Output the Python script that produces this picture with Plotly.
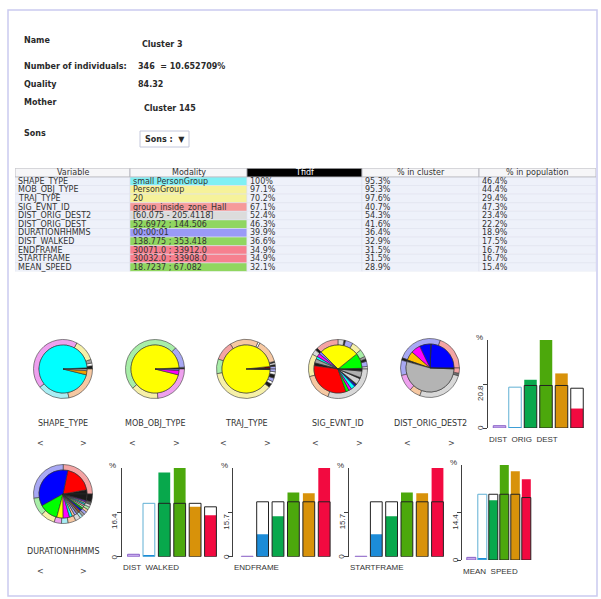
import plotly.graph_objects as go

W, H = 601, 599

# ---------------- data ----------------
info_labels = ["Name", "Number of individuals:", "Quality", "Mother", "Sons"]
info_values = ["Cluster 3", "346  = 10.652709%", "84.32", "Cluster 145", "Sons :  ▼"]

table_header = ["Variable", "Modality", "Tfidf", "% in cluster", "% in population"]
variables = ["SHAPE_TYPE", "MOB_OBJ_TYPE", "TRAJ_TYPE", "SIG_EVNT_ID", "DIST_ORIG_DEST2",
             "DIST_ORIG_DEST", "DURATIONHHMMS", "DIST_WALKED", "ENDFRAME", "STARTFRAME", "MEAN_SPEED"]
modalities = ["small PersonGroup", "PersonGroup", "20", "group_inside_zone_Hall", "[60.075 - 205.4118]",
              "52.6972 ; 144.506", "00:00:01", "138.775 ; 353.418", "30071.0 ; 33912.0",
              "30032.0 ; 33908.0", "18.7237 ; 67.082"]
tfidf = ["100%", "97.1%", "70.2%", "67.1%", "52.4%", "46.3%", "39.9%", "36.6%", "34.9%", "34.9%", "32.1%"]
pct_cluster = ["95.3%", "95.3%", "97.6%", "40.7%", "54.3%", "41.6%", "36.4%", "32.9%", "31.5%", "31.5%", "28.9%"]
pct_population = ["46.4%", "44.4%", "29.4%", "47.3%", "23.4%", "22.2%", "18.9%", "17.5%", "16.7%", "16.7%", "15.4%"]

# pie charts: inner = cluster distribution, ring = population distribution
# (slices listed counter-clockwise, starting at 3 o'clock)
pie_names = ["SHAPE_TYPE", "MOB_OBJ_TYPE", "TRAJ_TYPE", "SIG_EVNT_ID", "DIST_ORIG_DEST2", "DURATIONHHMMS"]

shape_inner = [0.8, 95.3, 2.8, 1.1]
mob_inner = [0.8, 95.3, 3.0, 0.9]
traj_inner = [0.5, 1.2, 97.6, 0.4]
sig_inner = [0.5, 10.3, 26.7, 1.7, 2.2, 1.7, 2.8, 1.9, 32.5, 2.2, 1.9, 2.8, 1.1, 0.8, 4.2, 0.8, 4.4, 1.4]
dist2_inner = [24.2, 0.4, 7.5, 6.4, 6.1, 1.1, 53.7, 0.6]
dur_inner = [2.8, 18.6, 35.6, 12.5, 4.2, 4.2, 2.0, 1.6, 1.6, 1.6, 1.4, 1.2, 1.2, 1.2, 1.1, 1.1, 1.0, 1.0, 4.2]

shape_ring = [1.8, 1.5, 2.0, 11.9, 43.3, 17.5, 21.7]
mob_ring = [1.0, 11.7, 48.6, 15.3, 23.4]
traj_ring = [1.5, 1.0, 1.0, 0.7, 13.0, 1.1, 15.6, 10.6, 8.0, 36.9, 2.0, 1.5, 2.0, 2.0, 1.5, 1.5]
sig_ring = [1.4, 2.8, 1.4, 1.4, 4.2, 5.6, 4.2, 0.8, 3.3, 12.5, 1.4, 2.8, 12.5, 15.3, 30.6]
dist2_ring = [19.4, 25.0, 1.4, 8.3, 9.2, 6.1, 26.4, 1.4, 2.8]
dur_ring = [24.4, 26.9, 9.7, 7.8, 3.9, 3.6, 4.2, 2.8, 1.5, 1.5, 1.5, 1.5, 1.5, 1.5, 1.5, 4.2]

# bar charts (% in cluster = filled bar, % in population = outlined box)
bar_titles = ["DIST  ORIG  DEST", "DIST  WALKED", "ENDFRAME", "STARTFRAME", "MEAN  SPEED"]
dod_cluster = [0.9, 0.3, 22.8, 41.6, 25.8, 9.2]
dod_population = [1.1, 19.3, 20.1, 20.1, 20.1, 18.8]
walk_cluster = [0.9, 0.6, 31.2, 32.9, 18.5, 15.4]
walk_population = [0.9, 19.8, 19.8, 19.8, 19.8, 18.5]
end_cluster = [0.0, 8.0, 14.4, 22.8, 22.5, 31.5]
end_population = [0.15, 19.5, 19.5, 19.5, 19.5, 19.5]
start_cluster = [0.0, 8.0, 14.4, 22.8, 22.5, 31.5]
start_population = [0.15, 19.5, 19.5, 19.5, 19.5, 19.5]
speed_cluster = [0.8, 0.5, 18.2, 28.9, 27.0, 24.6]
speed_population = [0.8, 20.0, 20.0, 20.0, 20.0, 19.0]
axis_max = [41.6, 32.9, 31.5, 31.5, 28.9]
axis_mid_labels = ["20.8", "16.4", "15.7", "15.7", "14.4"]

# ---------------- styles ----------------
LGRAY, LPURP, LGREEN, LYEL = "#d8d8d8", "#a8a8f4", "#a8eea8", "#f6f0a8"
SALMON, PEACH, PINK, LCYAN = "#f4a4a4", "#f6c8a2", "#eea0ee", "#a8eef4"
BLK, WHT, GRY = "#1a1a1a", "#ffffff", "#a0a0a0"

shape_inner_c = [BLK, "#00ffff", "#f0a000", "#c0c0c0"]
mob_inner_c = [BLK, "#ffff00", "#ff00ff", "#8080ff"]
traj_inner_c = [BLK, "#800000", "#ffff00", BLK]
sig_inner_c = [BLK, "#00ff00", "#ffff00", "#8080ff", "#ff00ff", "#00ffff", "#a0a0a0", BLK, "#ff0000",
               "#00ff00", "#ff00ff", "#00ffff", "#0000ff", BLK, "#d0d0d0", BLK, "#b0b0b0", BLK]
dist2_inner_c = ["#0000ff", BLK, "#0000ff", "#ff00ff", "#ffc000", BLK, "#b4b4b4", BLK]
dur_inner_c = [BLK, "#ff0000", "#0000ff", "#00ff00", "#ffff00", "#ff00ff", "#00ffff", "#ffc8a0",
               "#a0a0ff", "#808080", "#a05020", "#0000ff", "#00c000", "#a0ffa0", "#ffa0c0",
               "#00e0e0", "#c0c0c0", "#8000ff", BLK]
shape_ring_c = [BLK, WHT, GRY, LYEL, PINK, LCYAN, PEACH]
mob_ring_c = [BLK, LPURP, LGREEN, LYEL, PINK]
traj_ring_c = [LPURP, BLK, WHT, BLK, PEACH, WHT, PEACH, SALMON, LGREEN, LYEL, BLK, WHT, LPURP, BLK, WHT, LPURP]
sig_ring_c = [LGRAY, LPURP, BLK, GRY, LGREEN, LYEL, LPURP, BLK, LGRAY, SALMON, BLK, LGRAY, LYEL, PEACH, LGRAY]
dist2_ring_c = [SALMON, LPURP, BLK, LPURP, PINK, PEACH, LGRAY, "#707070", SALMON]
dur_ring_c = [SALMON, LPURP, LGREEN, LYEL, PINK, LCYAN, PEACH, LGRAY, LCYAN, GRY, LPURP, PEACH,
              LGREEN, LGRAY, "#606060", BLK]

bar_fill = ["#c4a8ec", "#1c8cd8", "#08a84c", "#4ca80c", "#d8920a", "#f20a40"]
OUT = "#222222"

modality_colors = ["#80f0f4", "#f6f29a", "#f6f29a", "#f69a9a", "#dcdcdc", "#90d660",
                   "#9a9af6", "#90d660", "#f6808f", "#f6808f", "#90d660"]

F_UI = "DejaVu Sans"
F_R = "Liberation Sans"


def X(p):
    return p / W


def Y(p):
    return 1 - p / H


fig = go.Figure()
ann = []
shapes = []


def text(x, y, s, size=8, family=F_UI, color="#2a2a2a", xanchor="left", yanchor="middle",
         angle=0, xref="paper", yref="paper", conv=True):
    ann.append(dict(x=X(x) if conv and xref == "paper" else x,
                    y=Y(y) if conv and yref == "paper" else y,
                    xref=xref, yref=yref, text=s, showarrow=False, textangle=angle,
                    xanchor=xanchor, yanchor=yanchor, borderpad=0,
                    font=dict(family=family, size=size, color=color)))


# ---------------- frame ----------------
shapes.append(dict(type="rect", xref="paper", yref="paper", x0=X(8), x1=X(597), y0=Y(596), y1=Y(10),
                   line=dict(color="#cacaf0", width=1.5), layer="below"))

# ---------------- info block ----------------
info_label_y = [41, 66, 85, 103, 133]
info_value_xy = [(141, 44), (137, 66), (137, 84.5), (143, 109), (144, 139.5)]
for lab, yy in zip(info_labels, info_label_y):
    text(23, yy, "<b>" + lab + "</b>", size=8)
shapes.append(dict(type="rect", xref="paper", yref="paper", x0=X(140), x1=X(189), y0=Y(147), y1=Y(131),
                   line=dict(color="#c4c8dc", width=1), fillcolor="#ffffff"))
for val, (xx, yy) in zip(info_values, info_value_xy):
    text(xx, yy, "<b>" + val + "</b>", size=8)

# ---------------- table (own axis: x in px columns, y in row index) ----------------
col_edges = [15, 130, 247, 362, 479, 596]
n_rows = len(variables) + 1
row_top, row_h = 168.3, 8.6
fig.update_layout(
    xaxis6=dict(domain=[X(col_edges[0]), X(col_edges[-1])], range=[col_edges[0], col_edges[-1]],
                visible=False, fixedrange=True, anchor="y6"),
    yaxis6=dict(domain=[Y(row_top + n_rows * row_h), Y(row_top)], range=[n_rows - 0.5, -0.5],
                visible=False, fixedrange=True, anchor="x6"),
)
fig.add_trace(go.Scatter(x=[col_edges[0]], y=[0], xaxis="x6", yaxis="y6", mode="markers",
                         marker=dict(opacity=0), hoverinfo="skip", showlegend=False))
columns = [variables, modalities, tfidf, pct_cluster, pct_population]
for c in range(5):
    x0, x1 = col_edges[c], col_edges[c + 1]
    hdr_black = table_header[c] == "Tfidf"
    shapes.append(dict(type="rect", xref="x6", yref="y6", x0=x0, x1=x1, y0=-0.5, y1=0.5,
                       fillcolor="#000000" if hdr_black else "#f6f6f8",
                       line=dict(color="#b0b0b8", width=0.8)))
    text((x0 + x1) / 2, 0, table_header[c], size=8, color="#ffffff" if hdr_black else "#333333",
         xanchor="center", xref="x6", yref="y6", conv=False)
    for r, val in enumerate(columns[c], start=1):
        fill = modality_colors[r - 1] if c == 1 else "#eef1fa"
        shapes.append(dict(type="rect", xref="x6", yref="y6", x0=x0, x1=x1, y0=r - 0.5, y1=r + 0.5,
                           fillcolor=fill, line=dict(color="#dfe3ee", width=0.6), layer="below"))
        text(x0 + 1.5, r, val, size=8, color="#333333", xref="x6", yref="y6", conv=False)

# ---------------- pies ----------------
pie_inner = [shape_inner, mob_inner, traj_inner, sig_inner, dist2_inner, dur_inner]
pie_inner_c = [shape_inner_c, mob_inner_c, traj_inner_c, sig_inner_c, dist2_inner_c, dur_inner_c]
pie_ring = [shape_ring, mob_ring, traj_ring, sig_ring, dist2_ring, dur_ring]
pie_ring_c = [shape_ring_c, mob_ring_c, traj_ring_c, sig_ring_c, dist2_ring_c, dur_ring_c]
pie_centers = [(63, 369), (155, 369), (246, 369), (338, 369), (430, 368), (63, 494)]
pie_label_y = [423, 423, 423, 423, 423, 551]
R_OUT, R_IN = 29.5, 24.0


def start_rotation(vals):
    # plotly places the first counter-clockwise slice just clockwise of `rotation`;
    # shift so that the first slice begins exactly at 3 o'clock.
    return 90 - 360.0 * vals[0] / sum(vals)


for i, name in enumerate(pie_names):
    cx, cy = pie_centers[i]
    fig.add_trace(go.Pie(values=pie_ring[i], labels=[f"r{i}_{k}" for k in range(len(pie_ring[i]))],
                         marker=dict(colors=pie_ring_c[i], line=dict(color="#3a3a3a", width=0.6)),
                         hole=R_IN / R_OUT, sort=False, direction="counterclockwise",
                         rotation=start_rotation(pie_ring[i]),
                         textinfo="none", hoverinfo="skip", showlegend=False,
                         domain=dict(x=[X(cx - R_OUT), X(cx + R_OUT)], y=[Y(cy + R_OUT), Y(cy - R_OUT)])))
    fig.add_trace(go.Pie(values=pie_inner[i], labels=[f"i{i}_{k}" for k in range(len(pie_inner[i]))],
                         marker=dict(colors=pie_inner_c[i], line=dict(color="#2a2a2a", width=0.6)),
                         sort=False, direction="counterclockwise", rotation=start_rotation(pie_inner[i]),
                         textinfo="none", hoverinfo="skip", showlegend=False,
                         domain=dict(x=[X(cx - R_IN), X(cx + R_IN)], y=[Y(cy + R_IN), Y(cy - R_IN)])))
    text(cx, pie_label_y[i], name, size=8, xanchor="center", color="#333333")
    text(cx - 23, pie_label_y[i] + 20, "&lt;", size=8, xanchor="center", color="#444444")
    text(cx + 21, pie_label_y[i] + 20, "&gt;", size=8, xanchor="center", color="#444444")

# ---------------- bar charts ----------------
bar_cluster = [dod_cluster, walk_cluster, end_cluster, start_cluster, speed_cluster]
bar_population = [dod_population, walk_population, end_population, start_population, speed_population]
# axis x, top y, base y, first bar centre, pitch, bar width, right edge
bar_geo = [(488, 340, 428, 499.5, 15.5, 12.5, 587),
           (121.7, 468, 556.7, 133.5, 15.4, 11.8, 221),
           (233.3, 468, 556.7, 247.2, 15.4, 11.8, 336),
           (349, 468, 556.7, 361.0, 15.3, 11.8, 448),
           (462.3, 465, 560, 471.3, 11.0, 9.0, 534)]
outline_cols = [["#8c64c8", "#60b0d4", OUT, OUT, OUT, OUT],
                ["#8c64c8", "#60b0d4", OUT, OUT, OUT, OUT],
                ["#8c64c8", OUT, OUT, OUT, OUT, OUT],
                ["#8c64c8", OUT, OUT, OUT, OUT, OUT],
                ["#8c64c8", "#60b0d4", OUT, OUT, OUT, OUT]]

fig.update_layout(barmode="overlay")
for n in range(5):
    ax_x, top_y, base_y, c0, pitch, bw, right = bar_geo[n]
    xa = "x" if n == 0 else f"x{n + 1}"
    ya = "y" if n == 0 else f"y{n + 1}"
    xkey = "xaxis" if n == 0 else f"xaxis{n + 1}"
    ykey = "yaxis" if n == 0 else f"yaxis{n + 1}"
    ymax = axis_max[n]
    mid = ymax / 2
    fig.update_layout({
        xkey: dict(domain=[X(ax_x), X(right)], range=[(ax_x - c0) / pitch, (right - c0) / pitch],
                   visible=False, fixedrange=True, anchor=ya),
        ykey: dict(domain=[Y(base_y), Y(top_y)], range=[0, ymax], showline=True, linecolor="#404040",
                   linewidth=1, ticks="outside", ticklen=4, tickcolor="#404040", tickwidth=1,
                   tickvals=[0, mid], showticklabels=False, showgrid=False, zeroline=False,
                   fixedrange=True, anchor=xa),
    })
    xs = list(range(len(bar_cluster[n])))
    fig.add_trace(go.Bar(x=xs, y=bar_cluster[n], width=bw / pitch, xaxis=xa, yaxis=ya,
                         marker=dict(color=bar_fill, line=dict(width=0)), hoverinfo="skip",
                         showlegend=False))
    fig.add_trace(go.Bar(x=xs, y=bar_population[n], width=bw / pitch, xaxis=xa, yaxis=ya,
                         marker=dict(color="rgba(0,0,0,0)", line=dict(color=outline_cols[n], width=1)),
                         hoverinfo="skip", showlegend=False))
    text(ax_x - 9, top_y - 3, "%", size=8, family=F_R, xanchor="center", color="#333333")
    text(X(ax_x - 7), 0, "0", size=8, family=F_R, angle=-90, xanchor="center", yanchor="middle",
         yref=ya, conv=False, color="#333333")
    text(X(ax_x - 7), mid, axis_mid_labels[n], size=8, family=F_R, angle=-90, xanchor="center",
         yanchor="top", yref=ya, conv=False, color="#333333")
    text(ax_x, base_y + 11, bar_titles[n], size=8, family=F_R, xanchor="left", color="#333333")

fig.update_layout(width=W, height=H, margin=dict(l=0, r=0, t=0, b=0), paper_bgcolor="#ffffff",
                  plot_bgcolor="rgba(0,0,0,0)", annotations=ann, shapes=shapes, showlegend=False)
fig.write_html("out.html", config={"displayModeBar": False},
               post_script="document.body.style.margin='0px';document.body.style.overflow='hidden';")
